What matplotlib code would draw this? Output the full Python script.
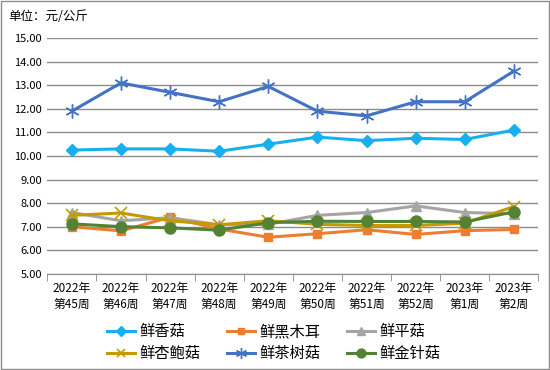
import matplotlib.pyplot as plt

plt.rcParams['font.family'] = ['Noto Sans CJK SC', 'DejaVu Sans']

weeks = ["2022年\n第45周", "2022年\n第46周", "2022年\n第47周", "2022年\n第48周", "2022年\n第49周",
         "2022年\n第50周", "2022年\n第51周", "2022年\n第52周", "2023年\n第1周", "2023年\n第2周"]

xianggu = [10.25, 10.3, 10.3, 10.2, 10.5, 10.8, 10.65, 10.75, 10.7, 11.1]
heimuer = [7.0, 6.82, 7.4, 6.9, 6.55, 6.7, 6.87, 6.67, 6.83, 6.88]
pinggu = [7.6, 7.25, 7.38, 7.08, 7.1, 7.48, 7.6, 7.88, 7.6, 7.55]
xingbaogu = [7.48, 7.58, 7.25, 7.08, 7.25, 7.1, 7.05, 7.05, 7.15, 7.85]
chashugu = [11.9, 13.1, 12.7, 12.3, 12.95, 11.9, 11.7, 12.3, 12.3, 13.6]
jinzhengu = [7.12, 7.0, 6.95, 6.85, 7.17, 7.23, 7.22, 7.22, 7.2, 7.63]

fig = plt.figure(figsize=(5.5, 3.7), dpi=100)
ax = fig.add_axes([0.086, 0.26, 0.893, 0.637])

x = range(len(weeks))
l1, = ax.plot(x, xianggu, color='#16B0F0', marker='D', markersize=6, lw=2.2, label='鲜香菇')
l2, = ax.plot(x, heimuer, color='#ED7D31', marker='s', markersize=6, lw=2.2, label='鲜黑木耳')
l3, = ax.plot(x, pinggu, color='#A5A5A5', marker='^', markersize=7, lw=2.2, label='鲜平菇')
l4, = ax.plot(x, xingbaogu, color='#C49A00', marker='x', markersize=8, mew=1.2, lw=2.2, label='鲜杏鲍菇')
l5, = ax.plot(x, chashugu, color='#4472C4', marker=(6, 2, 0), markersize=10, mew=1.0, lw=2.2, label='鲜茶树菇')
l6, = ax.plot(x, jinzhengu, color='#548235', marker='o', markersize=8, lw=2.2, label='鲜金针菇')

ax.set_xlim(-0.5, 9.5)
ax.set_ylim(5, 15)
ax.set_yticks([5, 6, 7, 8, 9, 10, 11, 12, 13, 14, 15])
ax.set_yticklabels(['%.2f' % v for v in range(5, 16)], fontsize=8)
ax.set_xticks(x)
ax.set_xticklabels(weeks, fontsize=8.5, linespacing=1.25)
ax.set_xticks([i - 0.5 for i in range(11)], minor=True)
ax.tick_params(axis='x', which='major', length=0, pad=6)
ax.tick_params(axis='x', which='minor', length=5, color='#888888')
ax.tick_params(axis='y', length=0, pad=4)
ax.grid(axis='y', color='#8C8C8C', lw=1)
ax.set_axisbelow(True)
for s in ['top', 'right', 'left']:
    ax.spines[s].set_visible(False)
ax.spines['bottom'].set_color('#8C8C8C')

fig.text(0.015, 0.955, '单位：元/公斤', fontsize=9, va='center')

# one legend per column so the columns sit at even spacing like the original
for col, hs in zip([107, 227, 347], [[l1, l4], [l2, l5], [l3, l6]]):
    fig.legend(handles=hs, labels=[h.get_label() for h in hs],
               loc='lower left', bbox_to_anchor=(col / 550, 0.022), frameon=False,
               fontsize=11, handlelength=1.8, handletextpad=0.35,
               borderpad=0, borderaxespad=0, labelspacing=0.3, markerscale=0.8)

fig.patches.append(plt.Rectangle((0.001, 0.002), 0.997, 0.995, transform=fig.transFigure,
                                 fill=False, edgecolor='#8C8C8C', lw=1))

fig.savefig('out.png', dpi=100)
